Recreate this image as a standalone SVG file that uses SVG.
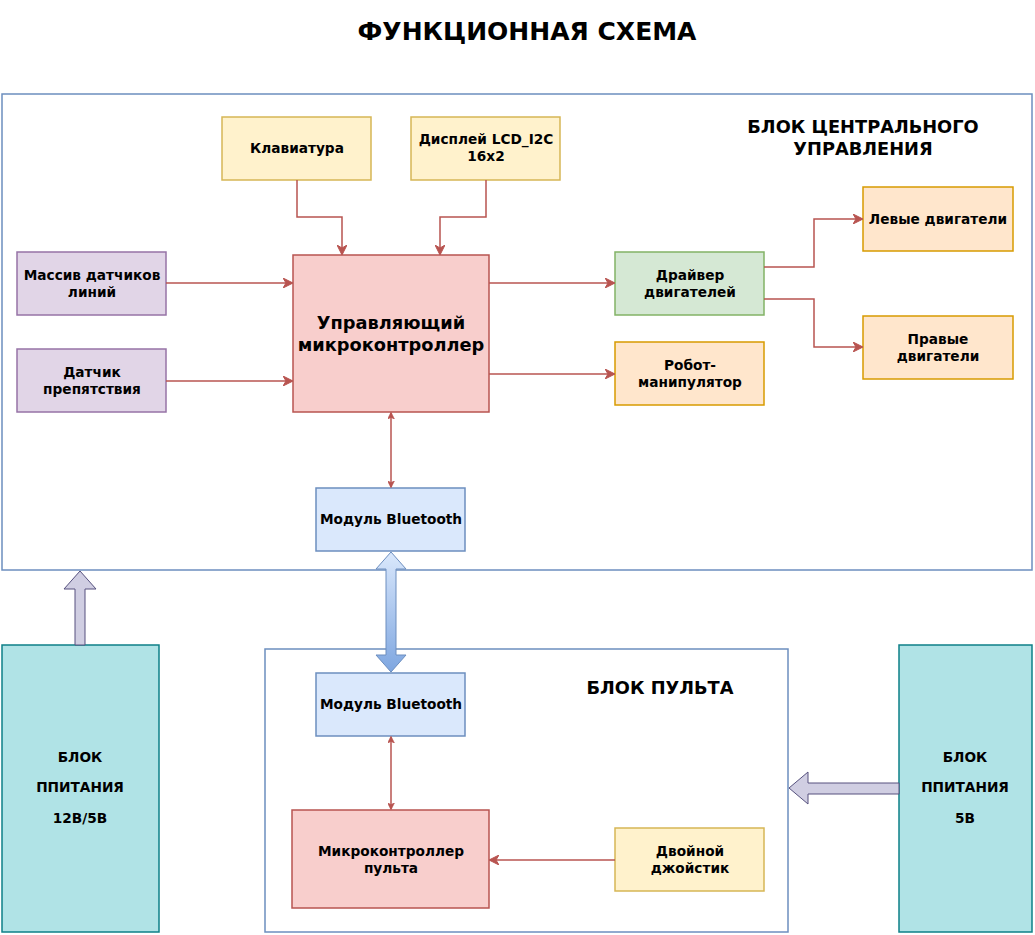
<svg xmlns="http://www.w3.org/2000/svg" width="1035" height="935" viewBox="0 0 1035 935">
<style>
text{font-family:"DejaVu Sans",Verdana,sans-serif;font-weight:bold;fill:#000;text-anchor:middle}
.n{font-size:13.7px}
.big{font-size:17.8px}
.yel{fill:#fff2cc;stroke:#d6b656;stroke-width:1.5}
.pur{fill:#e1d5e7;stroke:#9673a6;stroke-width:1.5}
.red{fill:#f8cecc;stroke:#b85450;stroke-width:1.5}
.grn{fill:#d5e8d4;stroke:#82b366;stroke-width:1.5}
.org{fill:#ffe6cc;stroke:#d79b00;stroke-width:1.5}
.blu{fill:#dae8fc;stroke:#6c8ebf;stroke-width:1.5}
.cont{fill:#fff;stroke:#6c8ebf;stroke-width:1.5}
.pwr{fill:#b0e3e6;stroke:#0e8088;stroke-width:1.5}
.c{fill:none;stroke:#b85450;stroke-width:1.5}
.pa{fill:#d0cee2;stroke:#56517e;stroke-width:1}
</style>
<defs>
<marker id="ah" viewBox="0 0 10 10" refX="9" refY="5" markerWidth="7" markerHeight="7" orient="auto-start-reverse" markerUnits="userSpaceOnUse">
<path d="M0,0 L10,5 L0,10 L3,5 Z" fill="#b85450" stroke="#b85450" stroke-width="1"/>
</marker>
<marker id="ah2" viewBox="0 0 10 10" refX="9" refY="5" markerWidth="10" markerHeight="10" orient="auto-start-reverse" markerUnits="userSpaceOnUse">
<path d="M0,0 L10,5 L0,10 L3,5 Z" fill="#b85450" stroke="#b85450" stroke-width="1"/>
</marker>
<linearGradient id="bg" x1="0" y1="0" x2="0" y2="1">
<stop offset="0" stop-color="#dae8fc"/>
<stop offset="1" stop-color="#7ea6e0"/>
</linearGradient>
</defs>
<rect width="1035" height="935" fill="#fff"/>
<text x="527" y="40" style="font-size:25px">ФУНКЦИОННАЯ СХЕМА</text>

<g id="central-block">
<rect class="cont" x="2" y="94" width="1030" height="476"/>
<text class="big" x="863" y="133">БЛОК ЦЕНТРАЛЬНОГО</text>
<text class="big" x="863" y="155">УПРАВЛЕНИЯ</text>
</g>
<g id="remote-block">
<rect class="cont" x="265" y="649" width="523" height="283"/>
<text class="big" x="660" y="694">БЛОК ПУЛЬТА</text>
</g>

<g id="keyboard"><rect class="yel" x="222" y="117" width="149" height="63"/><text class="n" x="297" y="153">Клавиатура</text></g>
<g id="display"><rect class="yel" x="411" y="117" width="149" height="63"/><text class="n" x="486" y="144">Дисплей LCD_I2C</text><text class="n" x="486" y="161">16x2</text></g>
<g id="line-sensors"><rect class="pur" x="17" y="252" width="149" height="63"/><text class="n" x="92" y="280">Массив датчиков</text><text class="n" x="92" y="297">линий</text></g>
<g id="obstacle-sensor"><rect class="pur" x="17" y="349" width="149" height="63"/><text class="n" x="92" y="377">Датчик</text><text class="n" x="92" y="394">препятствия</text></g>
<g id="mcu"><rect class="red" x="293" y="255" width="196" height="157"/><text class="big" x="391" y="329">Управляющий</text><text class="big" x="391" y="351">микроконтроллер</text></g>
<g id="driver"><rect class="grn" x="615" y="252" width="149" height="63"/><text class="n" x="690" y="280">Драйвер</text><text class="n" x="690" y="297">двигателей</text></g>
<g id="manipulator"><rect class="org" x="615" y="342" width="149" height="63"/><text class="n" x="690" y="370">Робот-</text><text class="n" x="690" y="387">манипулятор</text></g>
<g id="left-motors"><rect class="org" x="863" y="187" width="150" height="64"/><text class="n" x="938" y="224">Левые двигатели</text></g>
<g id="right-motors"><rect class="org" x="863" y="316" width="150" height="63"/><text class="n" x="938" y="344">Правые</text><text class="n" x="938" y="361">двигатели</text></g>
<g id="bt-top"><rect class="blu" x="316" y="488" width="149" height="63"/><text class="n" x="391" y="524">Модуль Bluetooth</text></g>
<g id="bt-bottom"><rect class="blu" x="316" y="673" width="149" height="63"/><text class="n" x="391" y="709">Модуль Bluetooth</text></g>
<g id="remote-mcu"><rect class="red" x="292" y="810" width="197" height="98"/><text class="n" x="391" y="856">Микроконтроллер</text><text class="n" x="391" y="873">пульта</text></g>
<g id="joystick"><rect class="yel" x="615" y="828" width="149" height="63"/><text class="n" x="690" y="856">Двойной</text><text class="n" x="690" y="873">джойстик</text></g>
<g id="power-left"><rect class="pwr" x="2" y="645" width="157" height="287"/><text class="n" x="80" y="762">БЛОК</text><text class="n" x="80" y="792">ППИТАНИЯ</text><text class="n" x="80" y="823">12В/5В</text></g>
<g id="power-right"><rect class="pwr" x="899" y="645" width="133" height="287"/><text class="n" x="965" y="762">БЛОК</text><text class="n" x="965" y="792">ППИТАНИЯ</text><text class="n" x="965" y="823">5В</text></g>

<g id="connectors">
<path class="c" d="M297,180 V217 H342 V254" marker-end="url(#ah2)"/>
<path class="c" d="M486,180 V217 H440 V254" marker-end="url(#ah2)"/>
<path class="c" d="M166,283 H292" marker-end="url(#ah2)"/>
<path class="c" d="M166,381 H292" marker-end="url(#ah2)"/>
<path class="c" d="M489,283 H614" marker-end="url(#ah2)"/>
<path class="c" d="M489,374 H614" marker-end="url(#ah2)"/>
<path class="c" d="M764,267 H814 V219 H862" marker-end="url(#ah2)"/>
<path class="c" d="M764,299 H814 V347 H862" marker-end="url(#ah2)"/>
<path class="c" d="M391,413 V487" marker-start="url(#ah)" marker-end="url(#ah)"/>
<path class="c" d="M391,737 V809" marker-start="url(#ah)" marker-end="url(#ah)"/>
<path class="c" d="M615,860 H490" marker-end="url(#ah2)"/>
<path d="M391,552 L406,569 H396 V655 H406 L391,672 L376,655 H386 V569 H376 Z" fill="url(#bg)" stroke="#6c8ebf" stroke-width="1"/>
<path class="pa" d="M80,571 L96,589 H85 V645 H75 V589 H64 Z"/>
<path class="pa" d="M789,788 L808,772 V783 H899 V794 H808 V804 Z"/>
</g>
</svg>
